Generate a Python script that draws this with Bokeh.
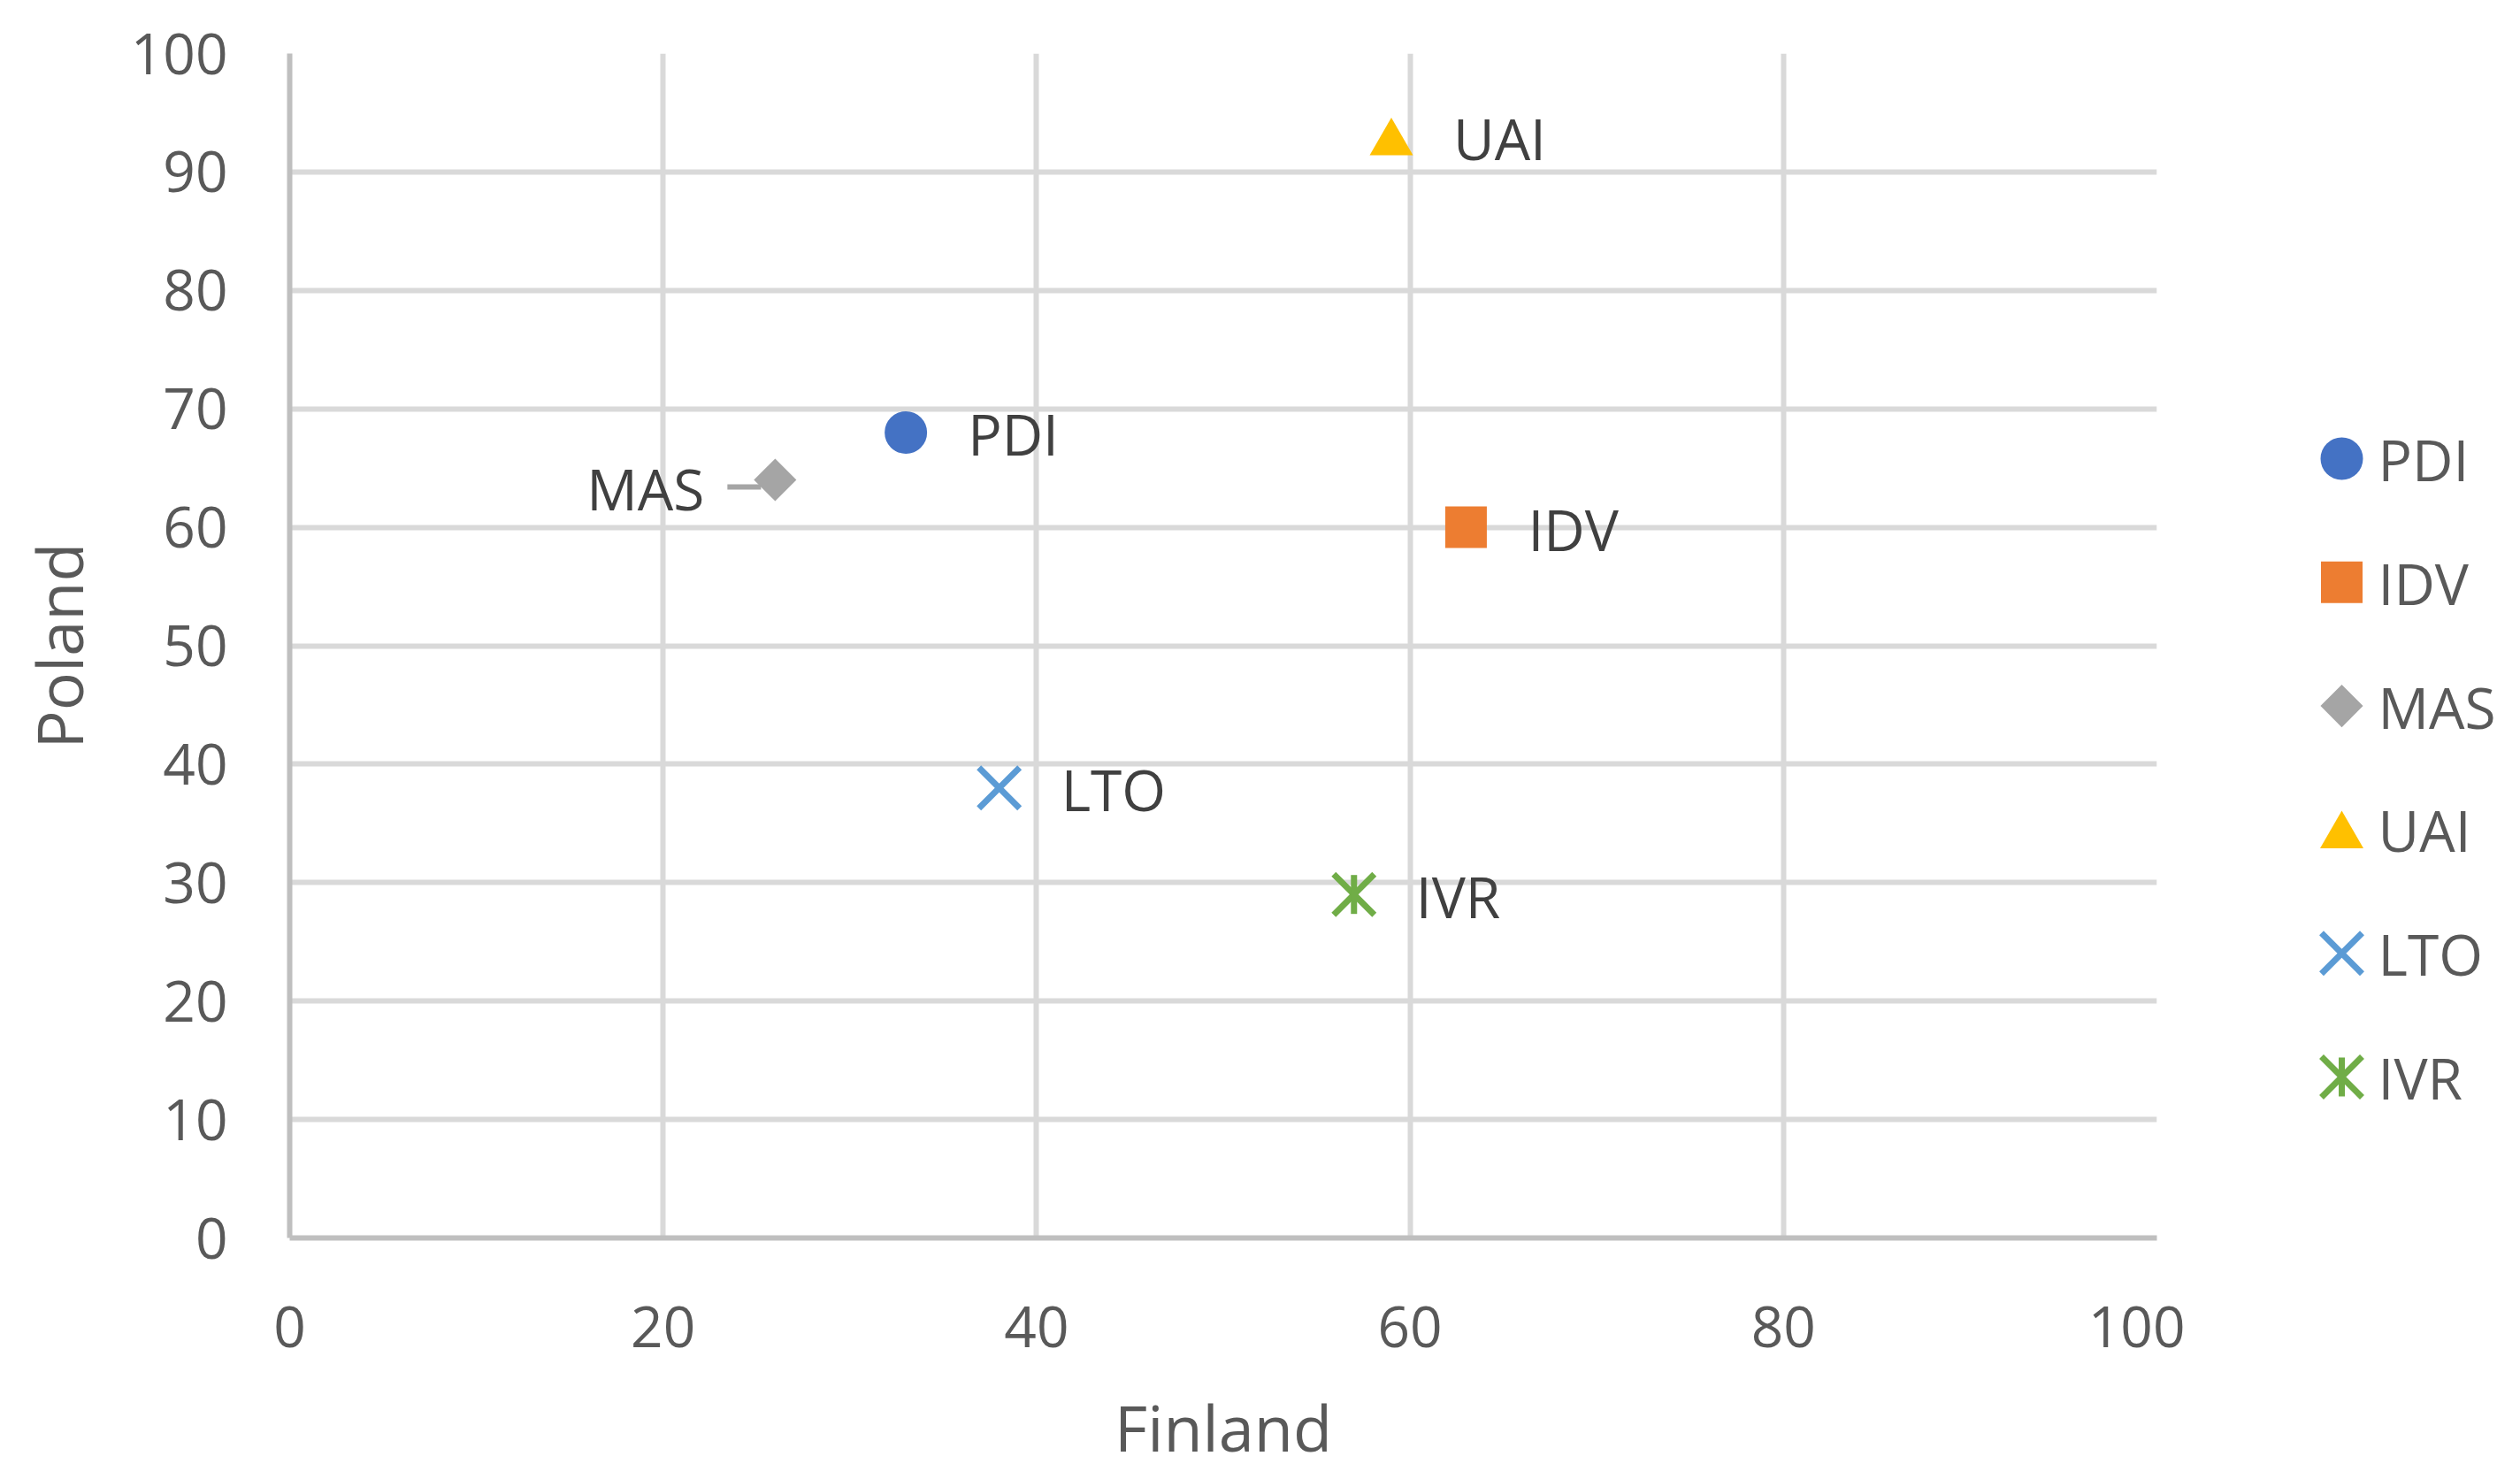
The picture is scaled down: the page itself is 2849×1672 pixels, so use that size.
import math
from bokeh.plotting import figure
from bokeh.layouts import row
from bokeh.models import ColumnDataSource, FixedTicker, Range1d
from bokeh.core.properties import value
from bokeh.embed import file_html
from bokeh.resources import INLINE

# ---------------- data ----------------
categories = ["PDI", "IDV", "MAS", "UAI", "LTO", "IVR"]
finland = [33, 63, 26, 59, 38, 57]
poland = [68, 60, 64, 93, 38, 29]
colors = ["#4472C4", "#ED7D31", "#A5A5A5", "#FFC000", "#5B9BD5", "#70AD47"]
x_ticks = [0, 20, 40, 60, 80, 100]
y_ticks = [0, 10, 20, 30, 40, 50, 60, 70, 80, 90, 100]
x_title = "Finland"
y_title = "Poland"
left_labelled = ["MAS"]

# ---------------- layout constants ----------------
W, H = 2849, 1672
MAIN_W = 2470
LEG_W = W - MAIN_W
FRAME_L, FRAME_R, FRAME_T, FRAME_B = 327, 2438, 60, 1399
FONT = "Open Sans"
TICK_COLOR = "#595959"
LABEL_COLOR = "#404040"
px_x = (FRAME_R - FRAME_L) / 100.0
px_y = (FRAME_B - FRAME_T) / 100.0

p = figure(width=MAIN_W, height=H, output_backend="svg", toolbar_location=None,
           x_range=Range1d(0, 100), y_range=Range1d(0, 100),
           min_border_left=FRAME_L, min_border_right=MAIN_W - FRAME_R,
           min_border_top=FRAME_T, min_border_bottom=H - FRAME_B)
p.outline_line_color = None
p.background_fill_color = "white"
p.border_fill_color = "white"

for ax, ticks in ((p.xaxis[0], x_ticks), (p.yaxis[0], y_ticks)):
    ax.ticker = FixedTicker(ticks=ticks)
    ax.axis_line_color = "#BFBFBF"
    ax.axis_line_width = 6
    ax.major_tick_line_color = None
    ax.minor_tick_line_color = None
    ax.major_tick_out = 0
    ax.major_tick_in = 0
    ax.major_label_text_font = FONT
    ax.major_label_text_font_size = "64px"
    ax.major_label_text_color = TICK_COLOR
    ax.axis_label_text_font = FONT
    ax.axis_label_text_font_size = "72px"
    ax.axis_label_text_font_style = "normal"
    ax.axis_label_text_color = TICK_COLOR
p.xaxis.axis_label = x_title
p.yaxis.axis_label = y_title
p.xaxis.major_label_standoff = 77
p.yaxis.major_label_standoff = 70
p.xaxis.axis_label_standoff = 38
p.yaxis.axis_label_standoff = 30

for g in (p.xgrid[0], p.ygrid[0]):
    g.grid_line_color = "#D9D9D9"
    g.grid_line_width = 6
p.xgrid.ticker = FixedTicker(ticks=x_ticks)
p.ygrid.ticker = FixedTicker(ticks=y_ticks)

# ---------------- markers ----------------
# (dy: downward pixel shift so the triangle's bounding box is centred on the point)
marker_style = {
    "PDI": [dict(marker="circle", size=48)],
    "IDV": [dict(marker="square", size=47)],
    "MAS": [dict(marker="square", size=34, angle=math.pi / 4)],
    "UAI": [dict(marker="triangle", size=49, dy=7)],
    "LTO": [dict(marker="x", size=65, line_width=7)],
    "IVR": [dict(marker="x", size=65, line_width=7),
            dict(marker="dash", size=44, line_width=7, angle=math.pi / 2)],
}


def draw_markers(fig, cat, color, xs, ys, y_per_px):
    for st in marker_style[cat]:
        st = dict(st)
        lw = st.pop("line_width", 0)
        dy = st.pop("dy", 0)
        src = ColumnDataSource(dict(x=xs, y=[v - dy * y_per_px for v in ys]))
        fig.scatter("x", "y", source=src, fill_color=color,
                    line_color=color, line_width=lw if lw else 1,
                    line_alpha=1.0 if lw else 0.0, **st)


for i, cat in enumerate(categories):
    draw_markers(p, cat, colors[i], [finland[i]], [poland[i]], 1.0 / px_y)

# ---------------- data labels ----------------
right_idx = [i for i, c in enumerate(categories) if c not in left_labelled]
left_idx = [i for i, c in enumerate(categories) if c in left_labelled]

src_r = ColumnDataSource(dict(x=[finland[i] for i in right_idx],
                              y=[poland[i] for i in right_idx],
                              t=[categories[i] for i in right_idx]))
p.text("x", "y", text="t", source=src_r, x_offset=70, y_offset=2,
       text_align="left", text_baseline="middle",
       text_font=value(FONT), text_font_size=value("64px"),
       text_color=LABEL_COLOR)

src_l = ColumnDataSource(dict(x=[finland[i] for i in left_idx],
                              y=[poland[i] for i in left_idx],
                              t=[categories[i] for i in left_idx]))
p.text("x", "y", text="t", source=src_l, x_offset=-80, y_offset=10,
       text_align="right", text_baseline="middle",
       text_font=value(FONT), text_font_size=value("64px"),
       text_color=LABEL_COLOR)

# leader line for the left-side label
p.segment(x0=[finland[i] - 54 / px_x for i in left_idx],
          x1=[finland[i] - 16 / px_x for i in left_idx],
          y0=[poland[i] - 8 / px_y for i in left_idx],
          y1=[poland[i] - 8 / px_y for i in left_idx],
          line_color="#A5A5A5", line_width=6)

# ---------------- legend (separate panel, screen-like coordinates) ----------------
LEG_MARK_X = 177
LEG_TEXT_X = 218
LEG_Y0 = 518
LEG_STEP = 139.8

lg = figure(width=LEG_W, height=H, output_backend="svg", toolbar_location=None,
            x_range=Range1d(0, LEG_W), y_range=Range1d(FRAME_B, FRAME_T),
            x_axis_location=None, y_axis_location=None,
            min_border_left=0, min_border_right=0,
            min_border_top=FRAME_T, min_border_bottom=H - FRAME_B)
lg.outline_line_color = None
lg.xgrid.visible = False
lg.ygrid.visible = False
lg.background_fill_color = "white"
lg.border_fill_color = "white"

leg_y = [LEG_Y0 + k * LEG_STEP for k in range(len(categories))]
for i, cat in enumerate(categories):
    draw_markers(lg, cat, colors[i], [LEG_MARK_X], [leg_y[i]], -1.0)
lg.text(x=[LEG_TEXT_X] * len(categories), y=leg_y, text=categories,
        text_align="left", text_baseline="middle", y_offset=1,
        text_font=value(FONT), text_font_size=value("64px"),
        text_color=TICK_COLOR)

layout = row(p, lg)
open("out.html", "w").write(file_html(layout, INLINE))
